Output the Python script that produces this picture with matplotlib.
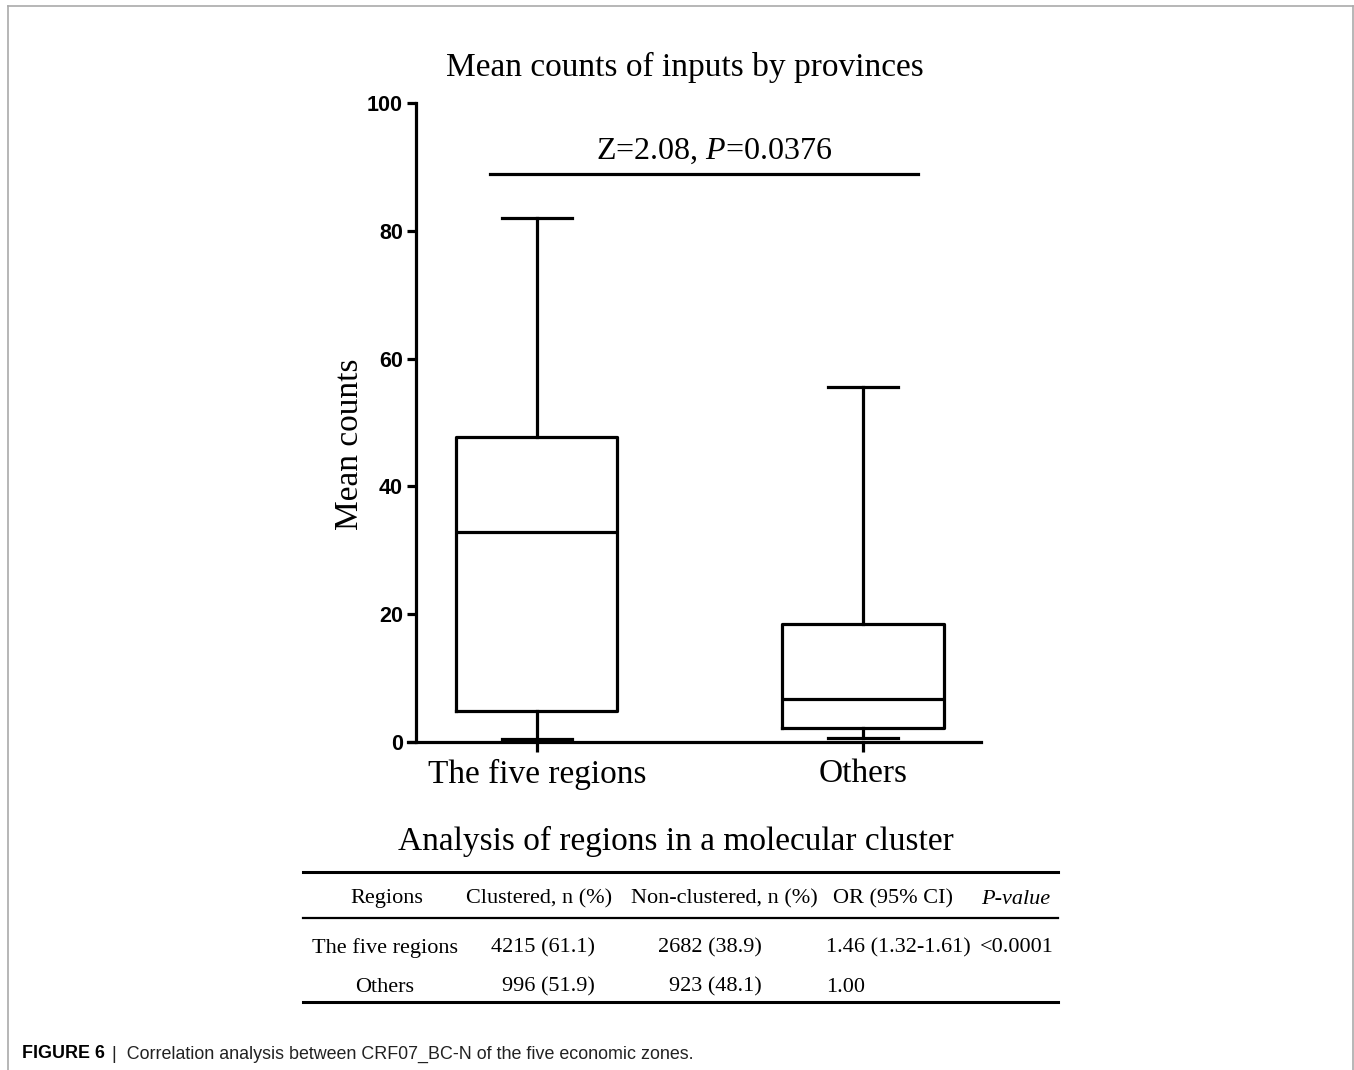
import matplotlib
matplotlib.use("Agg")
from matplotlib import pyplot as plt
from matplotlib.lines import Line2D

plt.rcParams['font.family'] = ['Liberation Serif', 'DejaVu Serif']
plt.rcParams['mathtext.fontset'] = 'custom'
plt.rcParams['mathtext.rm'] = 'Liberation Serif'
plt.rcParams['mathtext.it'] = 'Liberation Serif:italic'

# box plot data
groups = ['The five regions', 'Others']
whisker_low = [0.5, 0.6]
q1 = [4.8, 2.2]
medians = [32.9, 6.7]
q3 = [47.8, 18.5]
whisker_high = [82.0, 55.5]

# significance bar
sig_text = 'Z=2.08, $P$=0.0376'
sig_span = [0.855, 2.17]
sig_y = 88.9

# table under the chart
table_title = 'Analysis of regions in a molecular cluster'
col_headers = ['Regions', 'Clustered, n (%)', 'Non-clustered, n (%)', 'OR (95% CI)', 'P-value']
row_names = ['The five regions', 'Others']
clustered = ['4215 (61.1)', '996 (51.9)']
non_clustered = ['2682 (38.9)', '923 (48.1)']
odds_ratio = ['1.46 (1.32-1.61)', '1.00']
p_values = ['<0.0001', '']

W, H = 1354, 1070
fig = plt.figure(figsize=(W / 100, H / 100), dpi=100)


def fx(px):
    return px / W


def fy(py):
    return 1 - py / H


ax = fig.add_axes([fx(416), fy(742), fx(981) - fx(416), fy(103) - fy(742)])

stats = []
for i in range(len(groups)):
    stats.append({'whislo': whisker_low[i], 'q1': q1[i], 'med': medians[i],
                  'q3': q3[i], 'whishi': whisker_high[i], 'fliers': []})

lw = 2.3
ax.bxp(stats, positions=[1, 2], widths=0.494, capwidths=0.215, showfliers=False,
       boxprops=dict(color='black', linewidth=lw),
       medianprops=dict(color='black', linewidth=lw),
       whiskerprops=dict(color='black', linewidth=lw),
       capprops=dict(color='black', linewidth=lw))

ax.set_xlim(0.629, 2.362)
ax.set_ylim(0, 100)
ax.set_yticks([0, 20, 40, 60, 80, 100])
ax.set_xticks([1, 2])
ax.set_xticklabels(groups, fontsize=24)
for lab in ax.get_yticklabels():
    lab.set_family('Liberation Sans')
    lab.set_fontweight('bold')
    lab.set_fontsize(15.5)
ax.tick_params(axis='y', length=6.5, width=lw, pad=3)
ax.tick_params(axis='x', length=7, width=lw, pad=5)
ax.spines['top'].set_visible(False)
ax.spines['right'].set_visible(False)
ax.spines['left'].set_linewidth(lw)
ax.spines['bottom'].set_linewidth(lw)
ax.spines['bottom'].set_bounds(0.605, 2.362)
ax.set_ylabel('Mean counts', fontsize=24)
ax.yaxis.set_label_coords(-0.090, 0.466)

ax.plot(sig_span, [sig_y, sig_y], color='black', linewidth=lw, clip_on=False)
ax.text(sum(sig_span) / 2 + 0.03, sig_y + 1.2, sig_text, ha='center', va='bottom', fontsize=23)

fig.text(fx(685), fy(67), 'Mean counts of inputs by provinces', ha='center', va='center', fontsize=24)

# table
fig.text(fx(676), fy(841), table_title, ha='center', va='center', fontsize=24)
fig.add_artist(Line2D([fx(303), fx(1058)], [fy(872), fy(872)], color='black', linewidth=2.2))
fig.add_artist(Line2D([fx(303), fx(1058)], [fy(918), fy(918)], color='black', linewidth=1.6))
fig.add_artist(Line2D([fx(303), fx(1058)], [fy(1002), fy(1002)], color='black', linewidth=2.2))

tsize = 16
header_x = [387, 539, 724, 893, 1016]
for i, h in enumerate(col_headers):
    style = 'italic' if h == 'P-value' else 'normal'
    fig.text(fx(header_x[i]), fy(899), h, ha='center', va='center', fontsize=tsize, style=style)

row_y = [948, 987]
for r in range(len(row_names)):
    y = fy(row_y[r])
    fig.text(fx(385), y, row_names[r], ha='center', va='center', fontsize=tsize)
    fig.text(fx(595), y, clustered[r], ha='right', va='center', fontsize=tsize)
    fig.text(fx(762), y, non_clustered[r], ha='right', va='center', fontsize=tsize)
    fig.text(fx(826), y, odds_ratio[r], ha='left', va='center', fontsize=tsize)
    fig.text(fx(1017), y, p_values[r], ha='center', va='center', fontsize=tsize)

# caption and frame
fig.text(fx(22), fy(1054), 'FIGURE 6', ha='left', va='center', fontsize=12.9,
         family='Liberation Sans', fontweight='bold')
fig.text(fx(112), fy(1054), '|  Correlation analysis between CRF07_BC-N of the five economic zones.',
         ha='left', va='center', fontsize=12.9, family='Liberation Sans', color='#222222')

frame = '#aaaaaa'
fig.add_artist(Line2D([fx(8), fx(8)], [0, fy(6)], color=frame, linewidth=1.2))
fig.add_artist(Line2D([fx(8), fx(1353)], [fy(6), fy(6)], color=frame, linewidth=1.2))
fig.add_artist(Line2D([fx(1353), fx(1353)], [0, fy(6)], color=frame, linewidth=1.2))

fig.savefig('out.png', dpi=100)
